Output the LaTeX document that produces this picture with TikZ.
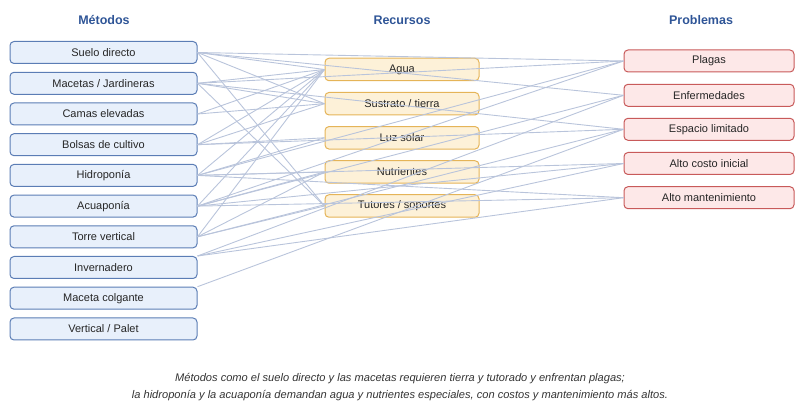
\documentclass[tikz,border=0pt]{standalone}
\usepackage{fontspec}
\setmainfont{Liberation Sans}
\usetikzlibrary{positioning}
\definecolor{metfill}{HTML}{E8F0FB}
\definecolor{metdraw}{HTML}{5B7DB5}
\definecolor{recfill}{HTML}{FDF1D8}
\definecolor{recdraw}{HTML}{E5B458}
\definecolor{profill}{HTML}{FDE8E8}
\definecolor{prodraw}{HTML}{C85A5A}
\definecolor{ttl}{HTML}{2F5597}
\definecolor{lnkc}{HTML}{B9C4DB}

\begin{document}
\begin{tikzpicture}[x=1pt, y=-1pt,
    met/.style={draw=metdraw, fill=metfill, line width=1pt, rounded corners=4pt, minimum width=187pt, minimum height=22pt, inner sep=0pt, font=\fontsize{11}{13}\selectfont, text=black!85},
    rec/.style={draw=recdraw, fill=recfill, line width=1pt, rounded corners=4pt, minimum width=154pt, minimum height=22.5pt, inner sep=0pt, font=\fontsize{11}{13}\selectfont, text=black!85},
    pro/.style={draw=prodraw, fill=profill, line width=1pt, rounded corners=4pt, minimum width=170pt, minimum height=22pt, inner sep=0pt, font=\fontsize{11}{13}\selectfont, text=black!85},
    ttl/.style={font=\fontsize{12.5}{14}\selectfont\bfseries, text=ttl},
    lnk/.style={draw=lnkc, line width=0.9pt},
    nota/.style={font=\fontsize{11.1}{13}\selectfont\itshape, text=black!80}
]
\useasboundingbox (0,0) rectangle (808,411);

% columnas
\node[ttl] (tmet) at (104,20) {Métodos};
\node[ttl] (trec) at (402,20) {Recursos};
\node[ttl] (tpro) at (701,20) {Problemas};

\node[met] (suelo) at (103.5,52.5) {Suelo directo};
\node[met] (macetas) at (103.5,83.3) {Macetas / Jardineras};
\node[met] (camas) at (103.5,114) {Camas elevadas};
\node[met] (bolsas) at (103.5,144.7) {Bolsas de cultivo};
\node[met] (hidro) at (103.5,175.4) {Hidroponía};
\node[met] (acua) at (103.5,206.1) {Acuaponía};
\node[met] (torre) at (103.5,236.8) {Torre vertical};
\node[met] (inver) at (103.5,267.5) {Invernadero};
\node[met] (colg) at (103.5,298.2) {Maceta colgante};
\node[met] (palet) at (103.5,329) {Vertical / Palet};

\node[rec] (agua) at (402,69.5) {Agua};
\node[rec] (sustrato) at (402,103.7) {Sustrato / tierra};
\node[rec] (luz) at (402,137.8) {Luz solar};
\node[rec] (nutri) at (402,172) {Nutrientes};
\node[rec] (tutor) at (402,206) {Tutores / soportes};

\node[pro] (plagas) at (709,61) {Plagas};
\node[pro] (enferm) at (709,95.3) {Enfermedades};
\node[pro] (espacio) at (709,129.3) {Espacio limitado};
\node[pro] (costo) at (709,163.5) {Alto costo inicial};
\node[pro] (mant) at (709,197.7) {Alto mantenimiento};

% enlaces
\draw[lnk] (suelo.east) -- (agua.west);
\draw[lnk] (suelo.east) -- (sustrato.west);
\draw[lnk] (suelo.east) -- (tutor.west);
\draw[lnk] (suelo.east) -- (plagas.west);
\draw[lnk] (suelo.east) -- (enferm.west);
\draw[lnk] (macetas.east) -- (agua.west);
\draw[lnk] (macetas.east) -- (sustrato.west);
\draw[lnk] (macetas.east) -- (tutor.west);
\draw[lnk] (macetas.east) -- (plagas.west);
\draw[lnk] (macetas.east) -- (espacio.west);
\draw[lnk] (camas.east) -- (agua.west);
\draw[lnk] (camas.east) -- (sustrato.west);
\draw[lnk] (bolsas.east) -- (agua.west);
\draw[lnk] (bolsas.east) -- (sustrato.west);
\draw[lnk] (bolsas.east) -- (luz.west);
\draw[lnk] (bolsas.east) -- (espacio.west);
\draw[lnk] (hidro.east) -- (agua.west);
\draw[lnk] (hidro.east) -- (nutri.west);
\draw[lnk] (hidro.east) -- (luz.west);
\draw[lnk] (hidro.east) -- (plagas.west);
\draw[lnk] (hidro.east) -- (costo.west);
\draw[lnk] (hidro.east) -- (mant.west);
\draw[lnk] (acua.east) -- (agua.west);
\draw[lnk] (acua.east) -- (nutri.west);
\draw[lnk] (acua.east) -- (plagas.west);
\draw[lnk] (acua.east) -- (enferm.west);
\draw[lnk] (acua.east) -- (costo.west);
\draw[lnk] (acua.east) -- (mant.west);
\draw[lnk] (torre.east) -- (agua.west);
\draw[lnk] (torre.east) -- (nutri.west);
\draw[lnk] (torre.east) -- (tutor.west);
\draw[lnk] (torre.east) -- (espacio.west);
\draw[lnk] (inver.north east) -- (costo.west);
\draw[lnk] (inver.north east) -- (mant.west);
\draw[lnk] (inver.north east) -- (enferm.west);
\draw[lnk] (colg.north east) -- (espacio.west);

% nota
\node[nota] (nota1) at (400,379) {Métodos como el suelo directo y las macetas requieren tierra y tutorado y enfrentan plagas;};
\node[nota] (nota2) at (400,396) {la hidroponía y la acuaponía demandan agua y nutrientes especiales, con costos y mantenimiento más altos.};
\end{tikzpicture}
\end{document}
